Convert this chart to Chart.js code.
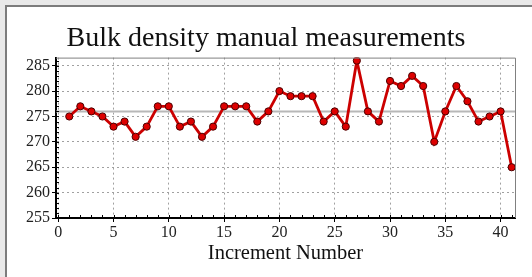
<!DOCTYPE html>
<html>
<head>
<meta charset="utf-8">
<script src="https://cdn.jsdelivr.net/npm/chart.js@4"></script>
<style>
  body { margin: 0; background: #e9e9e9; overflow: hidden; }
  #frame { position: absolute; left: 5px; top: 5px; width: 560px; height: 300px;
           background: #fff; border: 2px solid #7c7c7c; }
  #wrap { position: absolute; left: 0; top: 0; width: 532px; height: 277px; }
</style>
</head>
<body>
<div id="frame"></div>
<div id="wrap"><canvas id="densityChart"></canvas></div>
<script>
// Increment numbers and measured bulk density
var increments = [1, 2, 3, 4, 5, 6, 7, 8, 9, 10, 11, 12, 13, 14, 15, 16, 17, 18, 19, 20,
  21, 22, 23, 24, 25, 26, 27, 28, 29, 30, 31, 32, 33, 34, 35, 36, 37, 38, 39, 40, 41];
var density = [275, 277, 276, 275, 273, 274, 271, 273, 277, 277, 273, 274, 271, 273, 277, 277, 277, 274, 276, 280,
  279, 279, 279, 274, 276, 273, 286, 276, 274, 282, 281, 283, 281, 270, 276, 281, 278, 274, 275, 276, 265];
var meanValue = 276;
var xRange = [-0.2, 41.3];
var yRange = [255, 286.6];

document.addEventListener("DOMContentLoaded", function () {
  var points = increments.map(function (n, i) {
    return { x: n, y: density[i] };
  });
  var meanLine = xRange.map(function (x) {
    return { x: x, y: meanValue };
  });

  // frame, minor ticks and major tick marks
  var axisExtras = {
    id: "axisExtras",
    afterDraw: function (chart) {
      var c = chart.ctx, a = chart.chartArea;
      var xs = chart.scales.x, ys = chart.scales.y;
      c.save();
      c.strokeStyle = "#808080";
      c.lineWidth = 1;
      c.beginPath();
      c.moveTo(a.left, a.top + 0.5);
      c.lineTo(a.right + 0.5, a.top + 0.5);
      c.lineTo(a.right + 0.5, a.bottom);
      c.stroke();
      c.strokeStyle = "#000";
      c.beginPath();
      for (var v = 0; v <= 41; v++) {
        var px = Math.round(xs.getPixelForValue(v)) + 0.5;
        c.moveTo(px, a.bottom);
        c.lineTo(px, a.bottom - 3);
      }
      for (var w = 255; w <= 286; w++) {
        var py = Math.round(ys.getPixelForValue(w)) + 0.5;
        c.moveTo(a.left, py);
        c.lineTo(a.left + 3, py);
      }
      c.stroke();
      c.restore();
    }
  };

  var ctx = document.getElementById("densityChart").getContext("2d");
  var densityChart = new Chart(ctx, {
    type: "line",
    data: {
      datasets: [
        {
          data: points,
          borderColor: "#cc0000",
          borderWidth: 2.8,
          pointBackgroundColor: "#dd0000",
          pointBorderColor: "#4a0000",
          pointBorderWidth: 1,
          pointRadius: 3.6,
          tension: 0,
          order: 1,
        },
        {
          data: meanLine,
          borderColor: "#b8b8b8",
          borderWidth: 2,
          pointRadius: 0,
          order: 2,
        },
      ],
    },
    options: {
      responsive: true,
      maintainAspectRatio: false,
      animation: false,
      layout: { padding: { left: 17, right: 17, top: 0, bottom: 0 } },
      scales: {
        x: {
          type: "linear",
          min: xRange[0],
          max: xRange[1],
          afterFit: function (scale) { scale.height = 59; },
          ticks: {
            stepSize: 5,
            includeBounds: false,
            color: "#222",
            padding: 1,
            font: { family: "Liberation Serif", size: 16 },
          },
          grid: {
            color: "#a0a0a0",
            tickColor: "#000",
            tickLength: 4,
            lineWidth: 1,
          },
          border: { color: "#000", width: 2, dash: [2, 3] },
          title: {
            display: true,
            text: "Increment Number",
            color: "#111",
            padding: { top: 0, bottom: 11 },
            font: { family: "Liberation Serif", size: 20.5 },
          },
        },
        y: {
          min: yRange[0],
          max: yRange[1],
          afterFit: function (scale) { scale.width = 39; },
          ticks: {
            stepSize: 5,
            includeBounds: false,
            color: "#222",
            padding: 2,
            font: { family: "Liberation Serif", size: 16 },
          },
          grid: {
            color: "#a0a0a0",
            tickColor: "#000",
            tickLength: 4,
            lineWidth: 1,
          },
          border: { color: "#000", width: 2, dash: [2, 3] },
        },
      },
      plugins: {
        legend: { display: false },
        tooltip: { enabled: false },
        title: {
          display: true,
          text: "Bulk density manual measurements",
          color: "#111",
          padding: { top: 22, bottom: 2 },
          font: { family: "Liberation Serif", size: 28, weight: "normal" },
        },
      },
    },
    plugins: [axisExtras],
  });
});
</script>
</body>
</html>
